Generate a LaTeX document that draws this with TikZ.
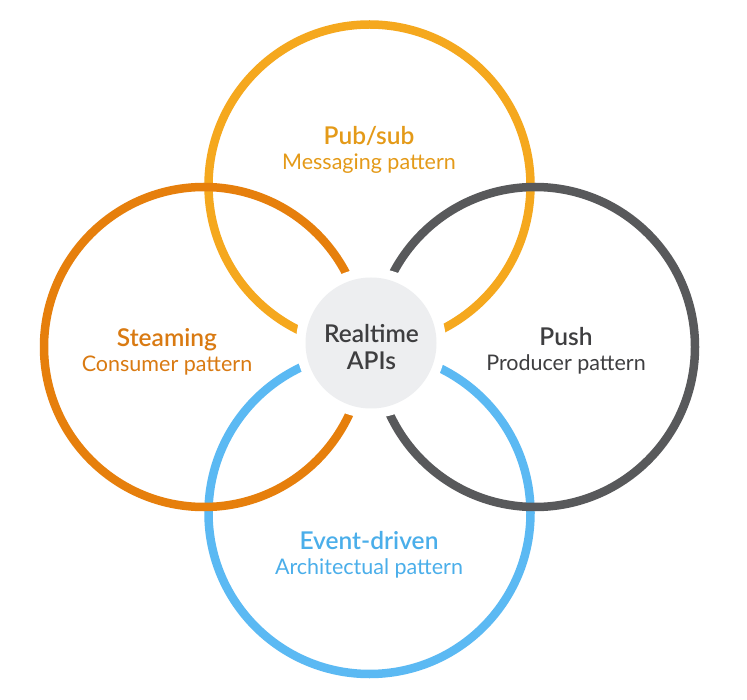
\documentclass[tikz,border=0pt]{standalone}
\usepackage{fontspec}
\setmainfont{Lato}[BoldFont={Lato Semibold}]
\definecolor{cyellow}{HTML}{F5A81E}
\definecolor{tyellow}{HTML}{E49A18}
\definecolor{corange}{HTML}{E67F0C}
\definecolor{torange}{HTML}{D97A12}
\definecolor{cgray}{HTML}{58595B}
\definecolor{tgray}{HTML}{3E3E40}
\definecolor{cblue}{HTML}{5BB9F3}
\definecolor{tblue}{HTML}{4AAEEA}
\definecolor{cfill}{HTML}{EDEEF0}
\begin{document}
\begin{tikzpicture}[x=1pt,y=-1pt,
  ring/.style={draw, line width=8.5pt, fill=none, circle, inner sep=0pt},
  ttl/.style={anchor=base, font=\fontsize{24.5}{28}\selectfont\bfseries},
  sub/.style={anchor=base, font=\fontsize{21.5}{25}\selectfont}]
\useasboundingbox (0,0) rectangle (747,700);
\fill[white] (0,0) rectangle (747,700);
% rings
\node[ring, cyellow, minimum size=322pt] (top) at (369.5,185.5) {};
\node[ring, cblue, minimum size=322pt] (bot) at (369.5,513) {};
\node[ring, corange, minimum size=320pt] (left) at (204,347) {};
\node[ring, cgray, minimum size=320pt] (right) at (535,347) {};
% gap and hub
\node[circle, fill=white, minimum size=150pt, inner sep=0pt] (gap) at (371,343) {};
\node[circle, fill=cfill, minimum size=131pt, inner sep=0pt] (hub) at (371,343) {};
% texts
\node[ttl, text=tgray] (hubA) at (371.5,343) {Realtime};
\node[ttl, text=tgray] (hubB) at (371.5,370) {APIs};
\node[ttl, text=tyellow] (topA) at (369,145) {Pub/sub};
\node[sub, text=tyellow] (topB) at (369,170) {Messaging pattern};
\node[ttl, text=torange] (leftA) at (167,347) {Steaming};
\node[sub, text=torange] (leftB) at (167,372) {Consumer pattern};
\node[ttl, text=tgray] (rightA) at (566,346) {Push};
\node[sub, text=tgray] (rightB) at (566,371) {Producer pattern};
\node[ttl, text=tblue] (botA) at (369,549) {Event-driven};
\node[sub, text=tblue] (botB) at (369,574) {Architectual pattern};
\end{tikzpicture}
\end{document}
